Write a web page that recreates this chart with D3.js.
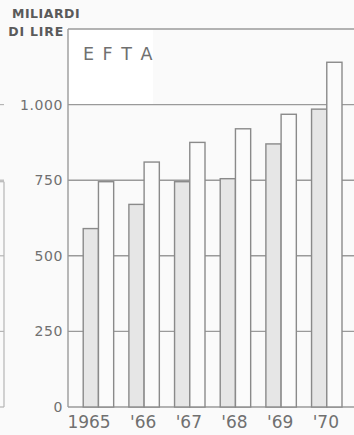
<!DOCTYPE html>
<html>
<head>
<meta charset="utf-8">
<script src="https://cdn.jsdelivr.net/npm/d3@7"></script>
<style>
html,body{margin:0;padding:0;background:#fafafa;}
svg{display:block;}
text{font-family:"DejaVu Sans",sans-serif;}
</style>
</head>
<body>
<svg id="chart" width="354" height="435"></svg>
<script>
// Data (miliardi di lire), EFTA
const years = ["1965", "'66", "'67", "'68", "'69", "'70"];
const seriesKeys = ["grey", "white"];
const greyValues  = [590, 670, 745, 755, 870, 985];
const whiteValues = [745, 810, 875, 920, 968, 1140];
const yTicks = [0, 250, 500, 750, 1000];
const yTickLabels = ["0", "250", "500", "750", "1.000"];
const yMax = 1250;
const unitLines = ["MILIARDI", "DI LIRE"];
const title = "E F T A";
const neighbourValue = 745; // right edge of the adjacent chart, cut off

const svg = d3.select("#chart");
const W = 354, H = 435;
const m = {left: 68, top: 29, bottom: 28};
const plotRight = 342;

const y = d3.scaleLinear().domain([0, yMax]).range([H - m.bottom, m.top]);
const x = d3.scaleBand().domain(years).range([m.left, plotRight]).paddingInner(0).paddingOuter(0);
const xs = d3.scaleBand().domain(["gap"].concat(seriesKeys)).range([0, x.bandwidth()]).padding(0);

const stroke = "#8a8a8a";

// neighbour chart fragment at the far left
const ng = svg.append("g");
ng.append("line").attr("x1", 4).attr("x2", 4).attr("y1", y(neighbourValue)).attr("y2", y(0))
  .attr("stroke", "#b5b5b5").attr("stroke-width", 1.2);
ng.append("line").attr("x1", 0).attr("x2", 4).attr("y1", y(neighbourValue)).attr("y2", y(neighbourValue))
  .attr("stroke", "#b5b5b5").attr("stroke-width", 1.2);
ng.selectAll("line.stub").data(yTicks).join("line").attr("class", "stub")
  .attr("x1", 0).attr("x2", 4).attr("y1", d => y(d)).attr("y2", d => y(d))
  .attr("stroke", "#b5b5b5").attr("stroke-width", 1.2);

// white box for title
svg.append("rect").attr("x", m.left).attr("y", m.top).attr("width", 85).attr("height", y(1000) - m.top)
  .attr("fill", "#ffffff");

// gridlines
svg.append("g").selectAll("line").data(yTicks.concat([yMax])).join("line")
  .attr("x1", m.left).attr("x2", W).attr("y1", d => y(d)).attr("y2", d => y(d))
  .attr("stroke", "#9a9a9a").attr("stroke-width", 1.4);

// y axis line
svg.append("line").attr("x1", m.left).attr("x2", m.left).attr("y1", y(yMax)).attr("y2", y(0))
  .attr("stroke", "#9a9a9a").attr("stroke-width", 1.4);

// bars
const rows = years.map((yr, i) => ({year: yr, grey: greyValues[i], white: whiteValues[i]}));
const groups = svg.append("g").selectAll("g").data(rows).join("g")
  .attr("transform", d => `translate(${x(d.year)},0)`);
groups.selectAll("rect").data(d => seriesKeys.map(k => ({key: k, value: d[k]}))).join("rect")
  .attr("x", d => xs(d.key))
  .attr("width", xs.bandwidth())
  .attr("y", d => y(d.value))
  .attr("height", d => y(0) - y(d.value))
  .attr("fill", d => d.key === "grey" ? "#e6e6e6" : "#fbfbfb")
  .attr("stroke", stroke).attr("stroke-width", 1.4);

// x labels
svg.append("g").selectAll("text").data(years).join("text")
  .attr("x", d => x(d) + x.bandwidth() - 3)
  .attr("y", 428)
  .attr("text-anchor", "end")
  .attr("font-size", 17)
  .attr("fill", "#707070")
  .text(d => d);

// y labels
svg.append("g").selectAll("text").data(yTicks).join("text")
  .attr("x", 63)
  .attr("y", d => y(d))
  .attr("dy", "0.36em")
  .attr("text-anchor", "end")
  .attr("font-size", 14)
  .attr("letter-spacing", 0.6)
  .attr("fill", "#707070")
  .text((d, i) => yTickLabels[i]);

// unit label
svg.append("text").attr("x", 12).attr("y", 18).attr("font-size", 12.5).attr("font-weight", "bold")
  .attr("fill", "#5a5a5a").attr("letter-spacing", 0.5).text(unitLines[0]);
svg.append("text").attr("x", 64).attr("y", 36).attr("text-anchor", "end").attr("font-size", 12.5).attr("font-weight", "bold")
  .attr("fill", "#5a5a5a").attr("letter-spacing", 0.8).text(unitLines[1]);

// title
svg.append("text").attr("x", 83).attr("y", 60).attr("font-size", 17.5).attr("fill", "#707070")
  .attr("letter-spacing", 1.5).text(title);
</script>
</body>
</html>
